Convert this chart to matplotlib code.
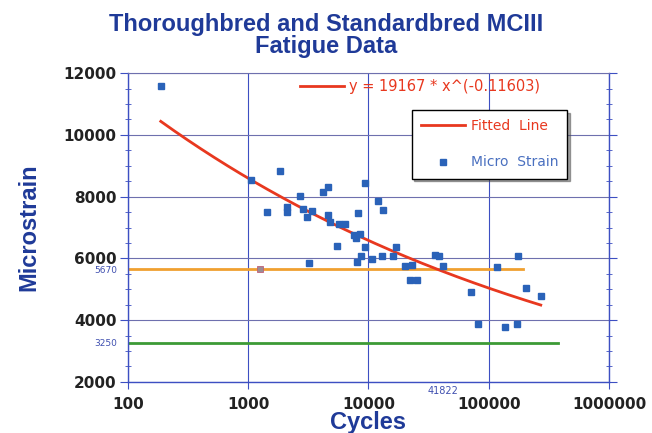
import matplotlib
matplotlib.use("Agg")
import matplotlib.pyplot as plt
import numpy as np
from matplotlib.lines import Line2D
from matplotlib.ticker import FixedLocator, MultipleLocator

# --- Data ---
cycles = [188, 1050, 1430, 1840, 2100, 2100, 2690, 2850, 3100, 3390,
          4180, 4600, 4600, 4780, 5670, 6370, 8170, 9340, 7570, 8440,
          7900, 5460, 3200, 8000, 11970, 13180, 9340, 8650, 10670, 12900,
          15960, 16900, 20100, 22950, 22300, 25500, 35600, 38400, 41500, 70900,
          81100, 116700, 136000, 171300, 174700, 203500, 271000]
micro_strain = [11600, 8540, 7500, 8830, 7660, 7500, 8020, 7600, 7340, 7530,
                8150, 8310, 7400, 7180, 7110, 7110, 7470, 8440, 6760, 6790,
                6650, 6400, 5850, 5880, 7860, 7570, 6370, 6080, 5980, 6080,
                6080, 6370, 5750, 5780, 5300, 5300, 6110, 6080, 5750, 4910,
                3880, 5720, 3780, 3880, 6080, 5040, 4780]

fit_coef = 19167
fit_exp = -0.11603

upper_limit = 5670
upper_limit_end = 192000
upper_marker_x = 1250
lower_limit = 3250
lower_limit_end = 380000
marked_cycles = 41822

x_ticks = [100, 1000, 10000, 100000, 1000000]
y_ticks = [2000, 4000, 6000, 8000, 10000, 12000]

blue_text = "#1f3a98"
red = "#e8381f"

# --- Figure ---
fig = plt.figure(figsize=(6.52, 4.33), dpi=100)
ax = fig.add_axes([0.196, 0.118, 0.738, 0.713])

ax.set_xscale("log")
ax.set_xlim(100, 1000000)
ax.set_ylim(2000, 12000)

# grid
for xv in x_ticks:
    ax.axvline(xv, color="#3d4fc2", lw=0.8, zorder=1)
for yv in y_ticks:
    ax.axhline(yv, color="#6e70ae", lw=0.8, zorder=1)

# limit lines
ax.plot([100, upper_limit_end], [upper_limit, upper_limit], color="#f0a030", lw=2, zorder=2)
ax.plot([upper_marker_x], [upper_limit], marker="s", ms=4, mfc="#9a8c94",
        mec="#c0607a", mew=0.6, ls="none", zorder=3)
ax.plot([100, lower_limit_end], [lower_limit, lower_limit], color="#3c9a35", lw=2, zorder=2)

# fitted line
xf = np.logspace(np.log10(min(cycles)), np.log10(max(cycles)), 200)
ax.plot(xf, fit_coef * xf ** fit_exp, color=red, lw=2, zorder=4)

# data
ax.plot(cycles, micro_strain, ls="none", marker="s", ms=5, color="#2a62b8", zorder=5)

# ticks
ax.xaxis.set_major_locator(FixedLocator(x_ticks))
ax.xaxis.set_minor_locator(FixedLocator([]))
ax.set_xticklabels([str(v) for v in x_ticks])
ax.yaxis.set_major_locator(FixedLocator(y_ticks))
ax.yaxis.set_minor_locator(MultipleLocator(500))
ax.tick_params(axis="x", which="major", length=5, direction="out", color="#3d4fc2",
               pad=6, labelsize=11)
ax.tick_params(axis="y", which="major", length=6, direction="out", color="#3d4fc2",
               pad=2, labelsize=11, right=True)
ax.tick_params(axis="y", which="minor", length=4, direction="inout", color="#3d4fc2",
               right=True)
for lab in ax.get_xticklabels() + ax.get_yticklabels():
    lab.set_fontweight("bold")
    lab.set_color("#222222")

for side in ["left", "right", "bottom"]:
    ax.spines[side].set_color("#3d4fc2")
    ax.spines[side].set_linewidth(1.0)
ax.spines["top"].set_color("#6e70ae")
ax.spines["top"].set_linewidth(0.8)

# small annotations
ytr = ax.get_yaxis_transform()
ax.text(-0.022, upper_limit - 60, str(upper_limit), transform=ytr, ha="right", va="center",
        fontsize=6.5, color="#4050b0")
ax.text(-0.022, lower_limit, str(lower_limit), transform=ytr, ha="right", va="center",
        fontsize=6.5, color="#4050b0")
ax.text(marked_cycles, -0.028, str(marked_cycles), transform=ax.get_xaxis_transform(),
        ha="center", va="center", fontsize=7, color="#4050b0")

# labels
fig.text(0.5, 0.918, "Thoroughbred and Standardbred MCIII\nFatigue Data",
         ha="center", va="center", fontsize=17, fontweight="bold",
         family="Liberation Sans", color=blue_text, linespacing=0.98)
ax.set_ylabel("Microstrain", fontsize=17, fontweight="bold", color=blue_text,
              family="Liberation Sans", labelpad=17)
ax.set_xlabel("Cycles", fontsize=17, fontweight="bold", color=blue_text,
              family="Liberation Sans", labelpad=-1)

# equation "legend"
eq = ax.legend([Line2D([], [], color=red, lw=2)], ["y = 19167 * x^(-0.11603)"],
               loc="center left", bbox_to_anchor=(0.358, 0.958), frameon=False,
               borderpad=0, borderaxespad=0, handlelength=3.0, handletextpad=0.35,
               fontsize=10.5, labelcolor=red)
ax.add_artist(eq)

# main legend
leg = ax.legend([Line2D([], [], color=red, lw=2),
                 Line2D([], [], ls="none", marker="s", ms=5, color="#2a62b8")],
                ["Fitted  Line", "Micro  Strain"],
                loc="upper right", bbox_to_anchor=(0.913, 0.88), borderaxespad=0,
                fontsize=10, labelspacing=1.6, handlelength=3.2, handletextpad=0.4,
                fancybox=False, shadow=True, edgecolor="black", framealpha=1,
                borderpad=0.65)
leg.get_frame().set_linewidth(1.0)
leg.get_texts()[0].set_color(red)
leg.get_texts()[1].set_color("#4a70c0")

fig.savefig("out.png", dpi=100, facecolor="white")
